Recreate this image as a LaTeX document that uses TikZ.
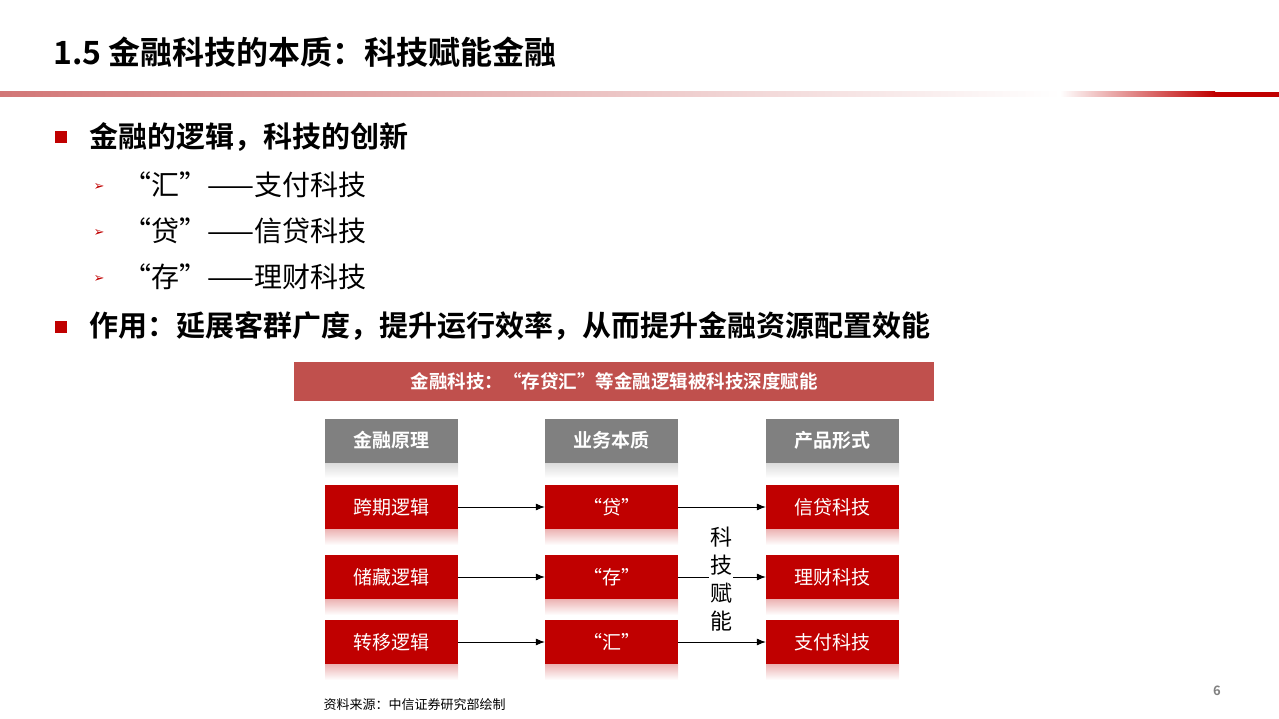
\documentclass[tikz,border=0pt]{standalone}
\usepackage{fontspec}
\setmainfont{Noto Sans CJK SC}
\newfontfamily\cjkb{Noto Sans CJK SC Bold}
\newfontfamily\dejavu{DejaVu Sans}
\usetikzlibrary{arrows.meta}
\definecolor{dred}{RGB}{192,0,0}
\definecolor{bannerc}{RGB}{192,80,77}
\definecolor{lred}{RGB}{210,118,118}
\definecolor{hgray}{RGB}{128,128,128}
\tikzset{
  box/.style={minimum width=133pt,minimum height=44pt,inner sep=0pt,text=white,font=\fontsize{19}{19}\selectfont},
  redbox/.style={box,fill=dred},
  graybox/.style={box,fill=hgray,font=\cjkb\fontsize{19}{19}\selectfont},
  conn/.style={-{Latex[length=9pt,width=7pt]},line width=0.8pt},
  bul/.style={anchor=west,font=\cjkb\fontsize{29}{29}\selectfont},
  sub/.style={anchor=west,font=\fontsize{28}{28}\selectfont},
  arr/.style={text=dred,font=\dejavu\fontsize{13}{13}\selectfont}
}
\begin{document}
\begin{tikzpicture}[x=1pt,y=-1pt]
\useasboundingbox (0,0) rectangle (1279,719);
\node[anchor=west,font=\cjkb\fontsize{32}{32}\selectfont] (title) at (50,52) {1.5 金融科技的本质：科技赋能金融};
\shade[left color=lred,right color=white] (0,92) rectangle (1060,97);
\shade[left color=white,right color=dred] (1060,92) rectangle (1215,97);
\fill[dred] (1214,92) rectangle (1279,97);
\fill[dred] (55,131) rectangle (67,143);
\node[bul] (b1) at (86,137) {金融的逻辑，科技的创新};
\node[arr] (a1) at (99,187) {➢};
\node[sub] (s1) at (120,185) {“汇”——支付科技};
\node[arr] (a2) at (99,233) {➢};
\node[sub] (s2) at (120,231) {“贷”——信贷科技};
\node[arr] (a3) at (99,279) {➢};
\node[sub] (s3) at (120,277) {“存”——理财科技};
\fill[dred] (55,321) rectangle (67,333);
\node[bul] (b2) at (86,326) {作用：延展客群广度，提升运行效率，从而提升金融资源配置效能};
\node[fill=bannerc,minimum width=640pt,minimum height=39pt,text=white,font=\cjkb\fontsize{18.5}{18.5}\selectfont] (ban) at (614,381.5) {金融科技：“存贷汇”等金融逻辑被科技深度赋能};
\foreach \x/\y/\c in {325/462/hgray,545/462/hgray,766/462/hgray,325/529/dred,545/529/dred,766/529/dred,325/599/dred,545/599/dred,766/599/dred,325/664/dred,545/664/dred,766/664/dred}
  \shade[top color=\c!30,bottom color=white] (\x,\y) rectangle ++(133,16);
\node[graybox] (h1) at (391.5,440.5) {金融原理};
\node[graybox] (h2) at (611.5,440.5) {业务本质};
\node[graybox] (h3) at (832.5,440.5) {产品形式};
\node[redbox] (r11) at (391.5,507) {跨期逻辑};
\node[redbox] (r12) at (611.5,507) {“贷”};
\node[redbox] (r13) at (832.5,507) {信贷科技};
\node[redbox] (r21) at (391.5,577) {储藏逻辑};
\node[redbox] (r22) at (611.5,577) {“存”};
\node[redbox] (r23) at (832.5,577) {理财科技};
\node[redbox] (r31) at (391.5,642) {转移逻辑};
\node[redbox] (r32) at (611.5,642) {“汇”};
\node[redbox] (r33) at (832.5,642) {支付科技};
\foreach \r in {1,2,3}{
  \draw[conn] (r\r1) -- (r\r2);
  \draw[conn] (r\r2) -- (r\r3);
}
\node[fill=white,inner sep=1pt,align=center,font=\fontsize{22}{28}\selectfont] (kj) at (721,579) {科\\技\\赋\\能};
\node[anchor=west,font=\fontsize{13}{13}\selectfont] (src) at (320,705) {资料来源：中信证券研究部绘制};
\node[font=\cjkb\fontsize{13}{13}\selectfont,text=hgray] (pg) at (1217,691) {6};
\end{tikzpicture}
\end{document}
